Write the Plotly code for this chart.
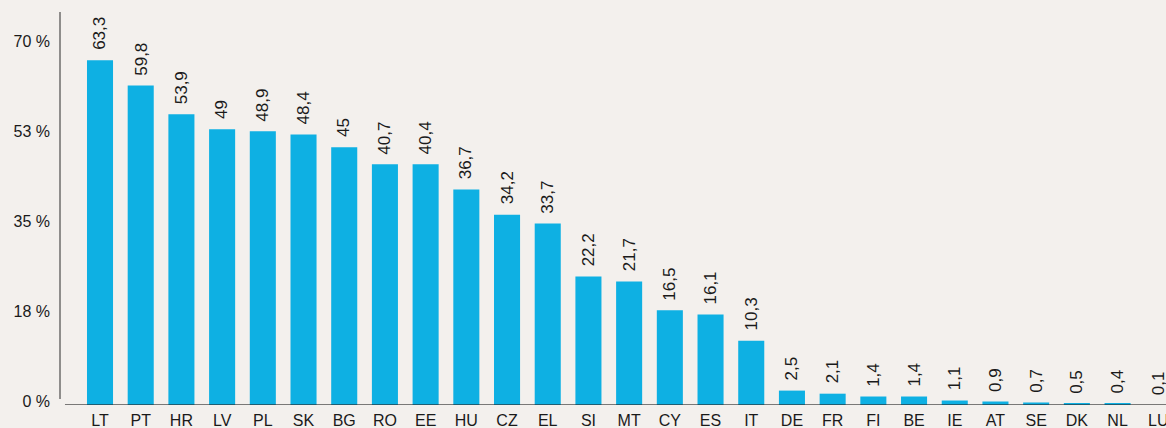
import plotly.graph_objects as go

countries = ["LT", "PT", "HR", "LV", "PL", "SK", "BG", "RO", "EE", "HU", "CZ", "EL", "SI", "MT",
             "CY", "ES", "IT", "DE", "FR", "FI", "BE", "IE", "AT", "SE", "DK", "NL", "LU"]
bar_values = [67.0, 62.1, 56.5, 53.6, 53.2, 52.6, 50.1, 46.8, 46.8, 41.9, 37.0, 35.3, 25.0, 24.0,
              18.4, 17.6, 12.5, 2.8, 2.2, 1.65, 1.65, 0.87, 0.68, 0.49, 0.2, 0.2, 0.0]
value_labels = ["63,3", "59,8", "53,9", "49", "48,9", "48,4", "45", "40,7", "40,4", "36,7", "34,2",
                "33,7", "22,2", "21,7", "16,5", "16,1", "10,3", "2,5", "2,1", "1,4", "1,4", "1,1",
                "0,9", "0,7", "0,5", "0,4", "0,1"]
tick_vals = [0, 17.5, 35, 52.5, 70]
tick_text = ["0 %", "18 %", "35 %", "53 %", "70 %"]

BG = "#F3F0ED"
BAR = "#0EB0E3"
TXT = "#1a1a1a"
FONT = "Arial"

fig = go.Figure()
fig.add_trace(go.Bar(
    x=countries, y=bar_values, marker=dict(color=BAR, line=dict(width=0)),
    width=0.64, hoverinfo="skip",
))

for c, v, t in zip(countries, bar_values, value_labels):
    fig.add_annotation(
        x=c, y=v, text=t, showarrow=False, textangle=-90,
        xanchor="center", yanchor="bottom", yshift=8,
        font=dict(family=FONT, size=17, color=TXT),
    )

# axis decorations
fig.add_shape(type="line", xref="paper", yref="y", x0=0.0045, x1=1, y0=0, y1=0,
              line=dict(color="rgba(40,40,40,0.6)", width=2), layer="above")
fig.add_shape(type="line", xref="paper", yref="paper", x0=0, x1=0, y0=0.0153, y1=1,
              line=dict(color="#2a2a2a", width=1), layer="above")

fig.update_layout(
    width=1166, height=428,
    margin=dict(l=60, r=0, t=12, b=23, pad=0),
    paper_bgcolor=BG, plot_bgcolor=BG,
    showlegend=False,
    bargap=0.36,
    font=dict(family=FONT, size=16, color=TXT),
    xaxis=dict(
        type="category", range=[-0.983, 26.19], showgrid=False, showline=False,
        zeroline=False, ticks="", tickfont=dict(size=16, color=TXT), fixedrange=True,
        automargin=False, ticklabelstandoff=4,
    ),
    yaxis=dict(
        range=[0, 76.4], tickvals=tick_vals, ticktext=tick_text, showgrid=False,
        showline=False, zeroline=False, ticks="", ticklabelshift=-4, ticklabelstandoff=9,
        tickfont=dict(size=16, color=TXT), fixedrange=True, automargin=False,
    ),
)

fig.write_html(
    "out.html",
    config={"displayModeBar": False},
    post_script="document.body.style.margin='0';document.body.style.overflow='hidden';"
                "document.body.style.background='#F3F0ED';",
)
